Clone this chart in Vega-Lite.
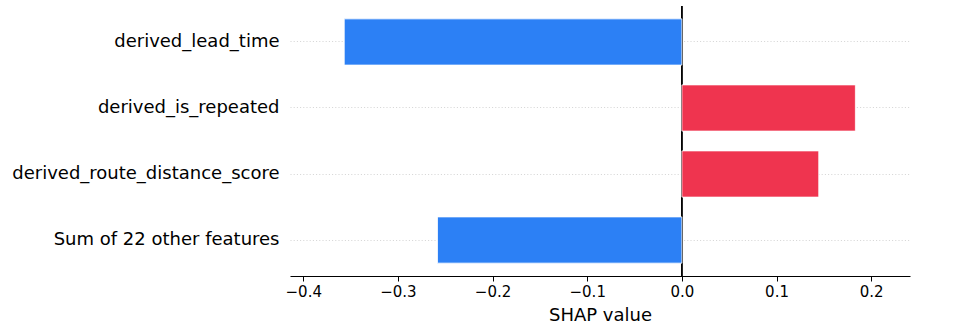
{
  "$schema": "https://vega.github.io/schema/vega-lite/v6.json",
  "autosize": {"type": "none"},
  "padding": {"left": 290, "top": 6, "right": 50, "bottom": 59},
  "width": 620,
  "height": 270,
  "background": "white",
  "config": {"view": {"stroke": null}, "font": "DejaVu Sans"},
  "data": {
    "values": [
      {"feature": "derived_lead_time", "shap": -0.3567},
      {"feature": "derived_is_repeated", "shap": 0.1833},
      {"feature": "derived_route_distance_score", "shap": 0.1446},
      {"feature": "Sum of 22 other features", "shap": -0.2582}
    ]
  },
  "layer": [
    {
      "mark": {"type": "rule", "color": "black", "strokeWidth": 1},
      "encoding": {"x": {"datum": 0, "type": "quantitative"}}
    },
    {
      "mark": {"type": "bar", "stroke": "white", "strokeOpacity": 0.8, "strokeWidth": 1},
      "encoding": {
        "y": {
          "field": "feature",
          "type": "nominal",
          "sort": null,
          "scale": {"paddingInner": 0.3, "paddingOuter": 0.195},
          "axis": {
            "title": null,
            "domain": false,
            "ticks": false,
            "labelFontSize": 18,
            "labelColor": "black",
            "labelPadding": 11,
            "labelLimit": 0,
            "labelFont": "DejaVu Sans",
            "grid": true,
            "bandPosition": 0.5,
            "gridColor": "#c8c8c8",
            "gridDash": [1, 2.2],
            "gridWidth": 0.8
          }
        },
        "x": {
          "field": "shap",
          "type": "quantitative",
          "scale": {"domain": [-0.414, 0.241], "nice": false, "zero": false},
          "axis": {
            "title": "SHAP value",
            "titleFontSize": 18,
            "titleFontWeight": "normal",
            "titleColor": "black",
            "titleFont": "DejaVu Sans",
            "titlePadding": 7,
            "values": [-0.4, -0.3, -0.2, -0.1, 0, 0.1, 0.2],
            "format": ".1f",
            "grid": false,
            "domainColor": "black",
            "domainWidth": 1.2,
            "tickColor": "black",
            "tickSize": 5,
            "tickWidth": 1,
            "labelFontSize": 15,
            "labelColor": "black",
            "labelFont": "DejaVu Sans",
            "labelPadding": 3
          }
        },
        "color": {
          "condition": {"test": "datum.shap > 0", "value": "#ef344f"},
          "value": "#2c80f5"
        }
      }
    }
  ]
}
